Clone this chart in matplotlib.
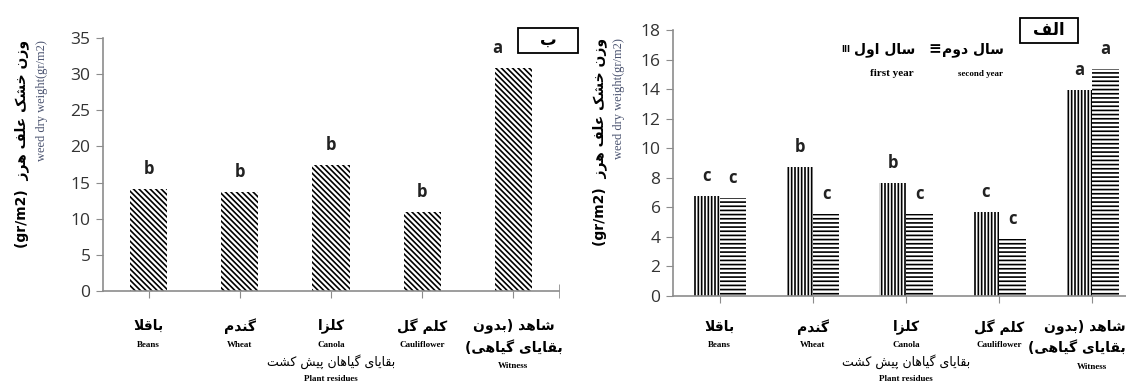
import matplotlib
matplotlib.use('Agg')
import matplotlib.pyplot as plt
from matplotlib.patches import Rectangle

# --- data ---
cats_fa = ['باقلا', 'گندم', 'کلزا', 'کلم گل', 'شاهد (بدون']
cats_fa2 = ['', '', '', '', 'بقایای گیاهی)']
cats_en = ['Beans', 'Wheat', 'Canola', 'Cauliflower', 'Witness']

b_vals = [14.1, 13.7, 17.4, 10.9, 30.9]
b_let = ['b', 'b', 'b', 'b', 'a']

first_year = [6.75, 8.7, 7.65, 5.7, 13.95]
second_year = [6.6, 5.55, 5.55, 3.85, 15.35]
first_let = ['c', 'b', 'b', 'c', 'a']
second_let = ['c', 'c', 'c', 'c', 'a']

W, H, DPI = 1126, 385, 100
PT = 72 / DPI  # px -> pt

# --- tiny persian shaper (matplotlib does no arabic shaping) ---
FOUR = {'ب': 0xFE8F, 'پ': 0xFB56, 'ت': 0xFE95, 'خ': 0xFEA5, 'س': 0xFEB1,
        'ش': 0xFEB5, 'ع': 0xFEC9, 'ف': 0xFED1, 'ق': 0xFED5, 'ک': 0xFB8E,
        'گ': 0xFB92, 'ل': 0xFEDD, 'م': 0xFEE1, 'ن': 0xFEE5, 'ه': 0xFEE9,
        'ی': 0xFBFC}
TWO = {'ا': 0xFE8D, 'د': 0xFEA9, 'ر': 0xFEAD, 'ز': 0xFEAF, 'و': 0xFEED}


def fa(s):
    out = []
    i = 0
    while i < len(s):
        c = s[i]
        prev = s[i - 1] if i > 0 else ''
        nxt = s[i + 1] if i + 1 < len(s) else ''
        pj = prev in FOUR
        if c == 'ل' and nxt == 'ا':
            out.append(chr(0xFEFC if pj else 0xFEFB))
            i += 2
            continue
        if c in FOUR:
            nj = nxt in FOUR or nxt in TWO
            k = 3 if (pj and nj) else 1 if pj else 2 if nj else 0
            out.append(chr(FOUR[c] + k))
        elif c in TWO:
            out.append(chr(TWO[c] + (1 if pj else 0)))
        else:
            out.append({'(': ')', ')': '('}.get(c, c))
        i += 1
    return ''.join(out[::-1])


plt.rcParams['font.family'] = ['DejaVu Sans']
plt.rcParams['hatch.linewidth'] = 1.2

fig = plt.figure(figsize=(W / DPI, H / DPI), dpi=DPI)


def fx(x):
    return x / W


def fy(y):
    return 1 - y / H


def style(ax):
    for s in ['top', 'right']:
        ax.spines[s].set_visible(False)
    for s in ['left', 'bottom']:
        ax.spines[s].set_color('#8c8c8c')
        ax.spines[s].set_linewidth(1.2)
    ax.tick_params(axis='y', direction='out', length=5, color='#8c8c8c',
                   labelsize=12.5, labelcolor='#333333', pad=4)
    ax.tick_params(axis='x', direction='out', length=5, color='#8c8c8c',
                   labelbottom=False)
    for lab in ax.get_yticklabels():
        lab.set_family('Open Sans')


def put(ax, s, x, d, dx=0, **kw):
    ax.annotate(s, xy=(x, 0), xycoords=('data', 'axes fraction'),
                xytext=(dx * PT, -d * PT), textcoords='offset points',
                va='center', **kw)


def xlabels(ax, d, last_dx=0, last_ha='center'):
    for i in range(5):
        dx = last_dx if i == 4 else 0
        ha = last_ha if i == 4 else 'center'
        put(ax, fa(cats_fa[i]), i, d['name'], dx, ha=ha, fontsize=10, fontweight='bold')
        if cats_fa2[i]:
            put(ax, fa(cats_fa2[i]), i, d['line2'], dx, ha=ha, fontsize=10, fontweight='bold')
            put(ax, cats_en[i], i, d['en_w'], 0, ha='center', fontsize=6.5,
                fontweight='bold', family='Liberation Serif')
        else:
            put(ax, cats_en[i], i, d['en'], 0, ha='center', fontsize=6.5,
                fontweight='bold', family='Liberation Serif')
    put(ax, fa('بقایای گیاهان پیش کشت'), 2, d['res'], ha='center', fontsize=9)
    put(ax, 'Plant residues', 2, d['res_en'], ha='center', fontsize=6.5,
        fontweight='bold', family='Liberation Serif')


def letters(ax, xs, vals, labs, dxs=None):
    dxs = dxs or [0] * len(xs)
    for x, v, t, dx in zip(xs, vals, labs, dxs):
        ax.annotate(t, xy=(x, v), xytext=(dx * PT, 20 * PT), textcoords='offset points',
                    ha='center', va='center', fontsize=12, fontweight='bold',
                    family='Open Sans', color='#222222')


def ylabel(xo, xi, ytop):
    fig.text(fx(xo), fy(ytop), '(gr/m2)  ' + fa('وزن خشک علف هرز'), rotation=90,
             ha='center', va='top', fontsize=10, fontweight='bold')
    fig.text(fx(xi), fy(ytop), 'weed dry weight(gr/m2)', rotation=90,
             ha='center', va='top', fontsize=9, family='Liberation Serif',
             color='#4b5470')


xs = list(range(5))

# --- left panel (b) ---
axb = fig.add_axes([fx(103), fy(291), fx(559 - 103), (291 - 38) / H])
axb.bar(xs, b_vals, width=0.41, color='white', edgecolor='black', linewidth=0,
        hatch='\\\\\\\\\\\\')
axb.set_xlim(-0.5, 4.5)
axb.set_ylim(0, 35)
axb.set_yticks(range(0, 36, 5))
axb.set_xticks(xs)
axb.set_xticks([4.5], minor=True)
axb.tick_params(axis='x', which='minor', direction='inout', length=10, color='#8c8c8c')
style(axb)
letters(axb, xs, b_vals, b_let, [0, 0, 0, 0, -16])
xlabels(axb, dict(name=35, en=54, line2=56, en_w=75, res=71, res_en=88))
ylabel(22, 42, 40)

fig.patches.append(Rectangle((fx(518), fy(53)), fx(60), 25 / H, transform=fig.transFigure,
                             fill=False, edgecolor='black', linewidth=1.3))
fig.text(fx(548), fy(40), fa('ب'), ha='center', va='center', fontsize=12, fontweight='bold')

# --- right panel (alef) ---
axa = fig.add_axes([fx(673), fy(296), fx(466), (296 - 30) / H])
w = 0.285
x1 = [x - w / 2 for x in xs]
x2 = [x + w / 2 for x in xs]
axa.bar(x1, first_year, width=w, color='white', edgecolor='black', linewidth=0,
        hatch='|||||')
axa.bar(x2, second_year, width=w, color='white', edgecolor='black', linewidth=0,
        hatch='----')
axa.set_xlim(-0.5, 4.5)
axa.set_ylim(0, 18)
axa.set_yticks(range(0, 19, 2))
axa.set_xticks(xs)
style(axa)
letters(axa, x1, first_year, first_let)
letters(axa, x2, second_year, second_let)
xlabels(axa, dict(name=31, en=49, line2=51, en_w=71, res=66, res_en=83),
        last_dx=33, last_ha='right')
ylabel(600, 619, 38)

fig.patches.append(Rectangle((fx(1020), fy(43)), fx(58), 25 / H, transform=fig.transFigure,
                             fill=False, edgecolor='black', linewidth=1.3))
fig.text(fx(1049), fy(30), fa('الف'), ha='center', va='center', fontsize=12, fontweight='bold')

# legend
fig.text(fx(846), fy(50), 'III', ha='center', va='center', fontsize=6, fontweight='bold')
fig.text(fx(885), fy(50), fa('سال اول'), ha='center', va='center', fontsize=10, fontweight='bold')
fig.text(fx(892), fy(74), 'first year', ha='center', va='center', fontsize=8,
         fontweight='bold', family='Liberation Serif')
fig.text(fx(935), fy(49), '≡', ha='center', va='center', fontsize=11, fontweight='bold')
fig.text(fx(973), fy(50), fa('سال دوم'), ha='center', va='center', fontsize=10, fontweight='bold')
fig.text(fx(980), fy(74), 'second year', ha='center', va='center', fontsize=6.5,
         fontweight='bold', family='Liberation Serif')

fig.savefig('out.png', dpi=DPI)
